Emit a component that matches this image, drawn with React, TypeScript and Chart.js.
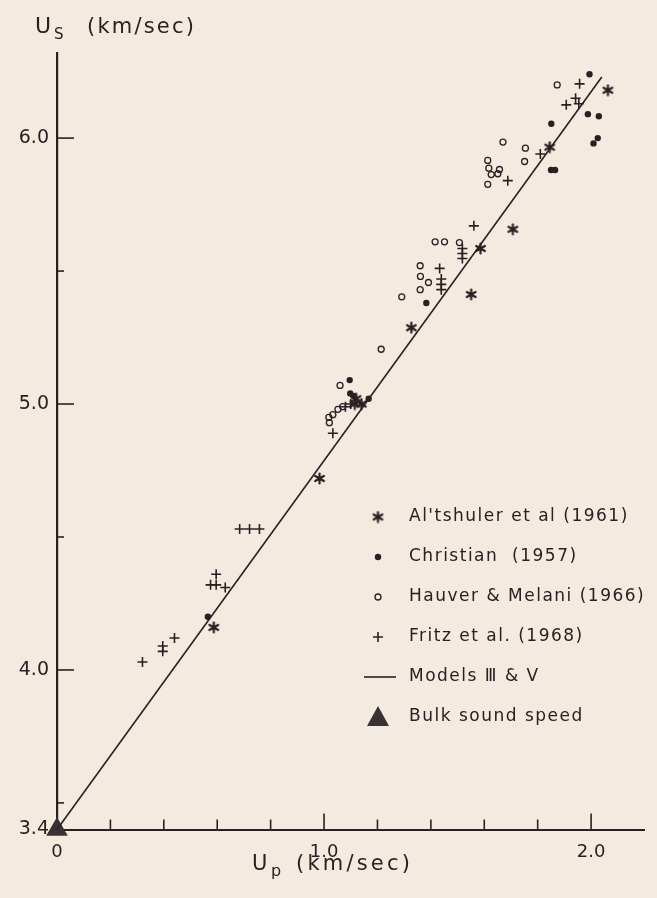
import React, { useEffect, useRef } from "react";
import { Chart, registerables } from "chart.js";

Chart.register(...registerables);

// ---- Data ----
const altshulerX = [0.587, 0.983, 1.115, 1.12, 1.14, 1.327, 1.551, 1.586, 1.707, 1.845, 2.063];
const altshulerY = [4.16, 4.72, 5.0, 5.02, 5.0, 5.287, 5.412, 5.585, 5.657, 5.966, 6.18];

const christianX = [0.565, 1.096, 1.098, 1.11, 1.167, 1.383, 1.851, 1.85, 1.865, 1.994, 1.988, 2.029, 2.025, 2.009];
const christianY = [4.2, 5.09, 5.04, 5.03, 5.02, 5.38, 6.054, 5.88, 5.88, 6.24, 6.09, 6.082, 6.0, 5.98];

const hauverX = [1.018, 1.02, 1.033, 1.052, 1.07, 1.06, 1.214, 1.291, 1.36, 1.391, 1.361, 1.36, 1.416, 1.451, 1.507, 1.613, 1.617, 1.626, 1.651, 1.657, 1.613, 1.67, 1.754, 1.751, 1.873];
const hauverY = [4.95, 4.93, 4.96, 4.98, 4.99, 5.07, 5.206, 5.403, 5.43, 5.457, 5.48, 5.52, 5.61, 5.61, 5.607, 5.916, 5.887, 5.863, 5.866, 5.882, 5.826, 5.985, 5.962, 5.912, 6.2];

const fritzX = [0.32, 0.396, 0.396, 0.44, 0.575, 0.596, 0.596, 0.63, 0.684, 0.721, 0.758, 1.033, 1.08, 1.1, 1.433, 1.439, 1.439, 1.439, 1.518, 1.518, 1.518, 1.561, 1.688, 1.81, 1.907, 1.954, 1.942, 1.957];
const fritzY = [4.03, 4.09, 4.07, 4.12, 4.32, 4.32, 4.36, 4.31, 4.53, 4.53, 4.53, 4.89, 4.99, 5.0, 5.51, 5.47, 5.45, 5.43, 5.585, 5.566, 5.547, 5.67, 5.84, 5.94, 6.125, 6.129, 6.15, 6.204];

const modelX = [0, 2.04];
const modelY = [3.4, 6.23];

const bulkX = [0];
const bulkY = [3.4];

const xLabelTicks = [0, 1.0, 2.0];
const yLabelTicks = [3.4, 4.0, 5.0, 6.0];
const xMajorTicks = [1.0, 2.0];
const xMinorTicks = [0.2, 0.4, 0.6, 0.8, 1.2, 1.4, 1.6, 1.8];
const yMajorTicks = [4.0, 5.0, 6.0];
const yMinorTicks = [3.5, 4.5, 5.5];

const legendLabels = [
  "Al'tshuler et al (1961)",
  "Christian  (1957)",
  "Hauver & Melani (1966)",
  "Fritz et al. (1968)",
  "Models \u2162 & \u2164",
  "Bulk sound speed",
];

const INK = "#2a2024";
const BG = "#f3ebdf";
const FONT = "'DejaVu Sans', sans-serif";

const pts = (xs: number[], ys: number[]) => xs.map((x, i) => ({ x, y: ys[i] }));

function makeStar(): HTMLCanvasElement {
  const c = document.createElement("canvas");
  c.width = 13;
  c.height = 13;
  const g = c.getContext("2d")!;
  g.strokeStyle = INK;
  g.lineWidth = 2.2;
  g.lineCap = "round";
  const r = 5;
  for (let k = 0; k < 3; k++) {
    const a = Math.PI / 2 + (k * Math.PI) / 3;
    g.beginPath();
    g.moveTo(6.5 + r * Math.cos(a), 6.5 + r * Math.sin(a));
    g.lineTo(6.5 - r * Math.cos(a), 6.5 - r * Math.sin(a));
    g.stroke();
  }
  g.fillStyle = INK;
  g.beginPath();
  g.arc(6.5, 6.5, 2.2, 0, Math.PI * 2);
  g.fill();
  return c;
}

export default function App() {
  const ref = useRef<HTMLCanvasElement | null>(null);

  useEffect(() => {
    const canvas = ref.current;
    if (!canvas) return;
    const star = makeStar();

    const bgPlugin = {
      id: "bg",
      beforeDraw(chart: any) {
        const ctx = chart.ctx;
        ctx.save();
        ctx.fillStyle = BG;
        ctx.fillRect(0, 0, chart.width, chart.height);
        ctx.restore();
      },
    };

    const decoPlugin = {
      id: "deco",
      beforeDatasetsDraw(chart: any) {
        const ctx = chart.ctx;
        const xs = chart.scales.x;
        const ys = chart.scales.y;
        const y0 = ys.getPixelForValue(3.4);
        const x0 = xs.getPixelForValue(0);
        ctx.save();
        ctx.strokeStyle = INK;
        ctx.lineWidth = 1.6;
        const xt = (v: number, len: number) => {
          const p = xs.getPixelForValue(v);
          ctx.beginPath();
          ctx.moveTo(p, y0);
          ctx.lineTo(p, y0 - len);
          ctx.stroke();
        };
        const yt = (v: number, len: number) => {
          const p = ys.getPixelForValue(v);
          ctx.beginPath();
          ctx.moveTo(x0, p);
          ctx.lineTo(x0 + len, p);
          ctx.stroke();
        };
        xMajorTicks.forEach((v) => xt(v, 16));
        xMinorTicks.forEach((v) => xt(v, 10));
        yMajorTicks.forEach((v) => yt(v, 17));
        yMinorTicks.forEach((v) => yt(v, 7));
        ctx.restore();
      },
      afterDraw(chart: any) {
        const ctx = chart.ctx;
        ctx.save();
        ctx.fillStyle = INK;
        ctx.textBaseline = "alphabetic";
        ctx.textAlign = "left";
        // Y axis title
        ctx.font = `22px ${FONT}`;
        (ctx as any).letterSpacing = "0px";
        ctx.fillText("U", 35, 33);
        ctx.font = `15px ${FONT}`;
        ctx.fillText("S", 54, 39);
        ctx.font = `21px ${FONT}`;
        (ctx as any).letterSpacing = "2.2px";
        ctx.fillText("(km/sec)", 87, 33);
        // X axis title
        (ctx as any).letterSpacing = "0px";
        ctx.font = `21px ${FONT}`;
        ctx.fillText("U", 252, 870);
        ctx.font = `16px ${FONT}`;
        ctx.fillText("p", 271, 876);
        ctx.font = `21px ${FONT}`;
        (ctx as any).letterSpacing = "3.2px";
        ctx.fillText("(km/sec)", 296, 870);

        // Legend
        const rowY = [517, 557, 597, 637, 677, 717];
        const mx = 378;
        const tx = 409;
        ctx.font = `17px ${FONT}`;
        (ctx as any).letterSpacing = "1.5px";
        ctx.textBaseline = "middle";
        legendLabels.forEach((t, i) => ctx.fillText(t, tx, rowY[i]));
        (ctx as any).letterSpacing = "0px";
        // markers
        ctx.drawImage(star, mx - 6.5, rowY[0] - 6.5);
        ctx.beginPath();
        ctx.arc(mx, rowY[1], 3.2, 0, Math.PI * 2);
        ctx.fill();
        ctx.strokeStyle = INK;
        ctx.lineWidth = 1.3;
        ctx.beginPath();
        ctx.arc(mx, rowY[2], 3.0, 0, Math.PI * 2);
        ctx.stroke();
        ctx.lineWidth = 1.6;
        ctx.beginPath();
        ctx.moveTo(mx - 5, rowY[3]);
        ctx.lineTo(mx + 5, rowY[3]);
        ctx.moveTo(mx, rowY[3] - 5);
        ctx.lineTo(mx, rowY[3] + 5);
        ctx.stroke();
        ctx.beginPath();
        ctx.moveTo(364, rowY[4]);
        ctx.lineTo(396, rowY[4]);
        ctx.stroke();
        ctx.fillStyle = "#3a3134";
        ctx.beginPath();
        ctx.moveTo(mx, rowY[5] - 11);
        ctx.lineTo(mx + 11, rowY[5] + 9);
        ctx.lineTo(mx - 11, rowY[5] + 9);
        ctx.closePath();
        ctx.fill();
        ctx.restore();
      },
    };

    const chart = new Chart(canvas, {
      type: "scatter",
      data: {
        datasets: [
          {
            label: "Models",
            data: pts(modelX, modelY),
            showLine: true,
            borderColor: INK,
            borderWidth: 1.6,
            pointRadius: 0,
            clip: false,
          } as any,
          {
            label: "Al'tshuler",
            data: pts(altshulerX, altshulerY),
            pointStyle: star,
            clip: false,
          } as any,
          {
            label: "Christian",
            data: pts(christianX, christianY),
            pointStyle: "circle",
            pointRadius: 3.2,
            backgroundColor: INK,
            borderColor: INK,
            borderWidth: 0,
            clip: false,
          } as any,
          {
            label: "Hauver",
            data: pts(hauverX, hauverY),
            pointStyle: "circle",
            pointRadius: 3.0,
            backgroundColor: "rgba(0,0,0,0)",
            borderColor: INK,
            borderWidth: 1.3,
            clip: false,
          } as any,
          {
            label: "Fritz",
            data: pts(fritzX, fritzY),
            pointStyle: "cross",
            pointRadius: 5,
            borderColor: INK,
            borderWidth: 1.6,
            clip: false,
          } as any,
          {
            label: "Bulk",
            data: pts(bulkX, bulkY),
            pointStyle: "triangle",
            pointRadius: 12.5,
            backgroundColor: "#3a3134",
            borderColor: "#3a3134",
            borderWidth: 0,
            clip: false,
          } as any,
        ],
      },
      options: {
        animation: false,
        responsive: false,
        events: [],
        layout: { padding: { left: 0, top: 53, right: 12, bottom: 0 } },
        plugins: { legend: { display: false }, tooltip: { enabled: false } },
        scales: {
          x: {
            type: "linear",
            min: 0,
            max: 2.2,
            grid: { display: false, drawTicks: false },
            border: { display: true, color: INK, width: 2 },
            afterBuildTicks: (s: any) => {
              s.ticks = xLabelTicks.map((v) => ({ value: v }));
            },
            afterFit: (s: any) => {
              s.height = 68.5;
            },
            ticks: {
              color: INK,
              padding: 12,
              maxRotation: 0,
              font: { family: FONT, size: 18 },
              callback: (v: any) => (Number(v) === 0 ? "0" : Number(v).toFixed(1)),
            },
          },
          y: {
            type: "linear",
            min: 3.4,
            max: 6.32,
            grid: { display: false, drawTicks: false },
            border: { display: true, color: INK, width: 2.2 },
            afterBuildTicks: (s: any) => {
              s.ticks = yLabelTicks.map((v) => ({ value: v }));
            },
            afterFit: (s: any) => {
              s.width = 57;
            },
            ticks: {
              color: INK,
              padding: 8,
              font: { family: FONT, size: 19 },
              callback: (v: any) => Number(v).toFixed(1),
            },
          },
        },
      },
      plugins: [bgPlugin, decoPlugin],
    } as any);

    return () => chart.destroy();
  }, []);

  return (
    <div style={{ position: "absolute", left: 0, top: 0, width: 657, height: 898, background: BG }}>
      <canvas ref={ref} width={657} height={898} style={{ display: "block", width: 657, height: 898 }} />
    </div>
  );
}
